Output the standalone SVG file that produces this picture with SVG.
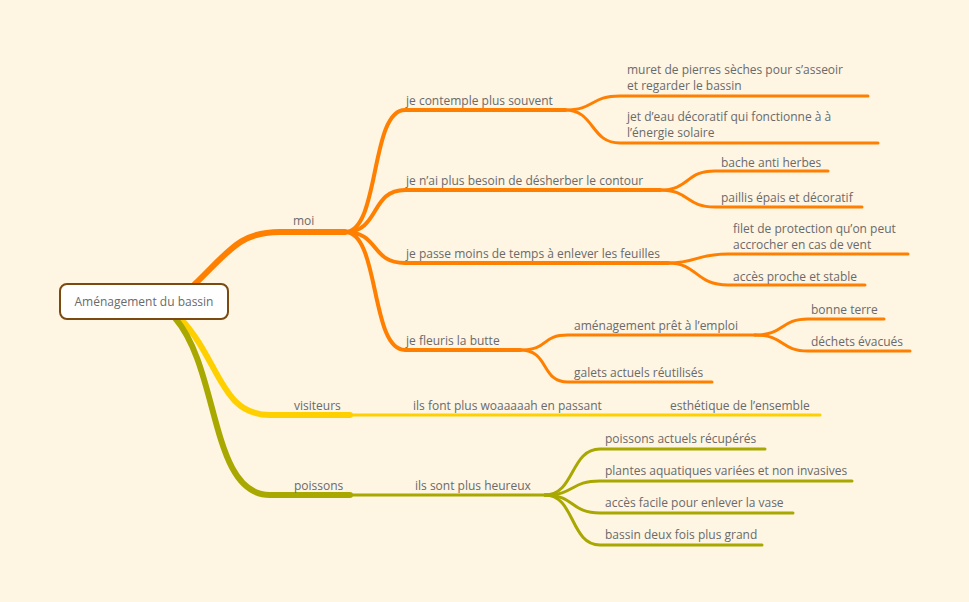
<svg xmlns="http://www.w3.org/2000/svg" width="969" height="602" viewBox="0 0 969 602">
<style>
text{font-family:"Open Sans","Liberation Sans",sans-serif;font-size:12px;fill:#6a6a6a}
.o{stroke:#FF7F00;fill:none;stroke-linecap:round}
.y{stroke:#FFD000;fill:none;stroke-linecap:round}
.g{stroke:#A8A800;fill:none;stroke-linecap:round}
.w1{stroke-width:6}.w2{stroke-width:4}.w3{stroke-width:3}
</style>
<rect width="969" height="602" fill="#FEF5E3"/>
<g id="connectors">
<path class="o w1" d="M195,284 C230,250 240,232 280,232 L345,232"/>
<path class="o w2" d="M345,232 C380,232 370,110 405,110 L565,110"/>
<path class="o w2" d="M345,232 C380,232 370,190 405,190 L660,190"/>
<path class="o w2" d="M345,232 C380,232 370,263 405,263 L668,263"/>
<path class="o w2" d="M345,232 C380,232 370,350 405,350 L520,350"/>
<path class="o w3" d="M565,110 C595,110 590,96 620,96 L868,96"/>
<path class="o w3" d="M565,110 C595,110 590,143 620,143 L878,143"/>
<path class="o w3" d="M660,190 C690,190 685,171 715,171 L828,171"/>
<path class="o w3" d="M660,190 C690,190 685,207 715,207 L862,207"/>
<path class="o w3" d="M668,263 C698,263 695,254 728,254 L908,254"/>
<path class="o w3" d="M668,263 C698,263 695,285 728,285 L865,285"/>
<path class="o w3" d="M520,350 C550,350 540,335 568,335 L755,335"/>
<path class="o w3" d="M520,350 C550,350 540,382 568,382 L712,382"/>
<path class="o w3" d="M755,335 C785,335 780,319 808,319 L884,319"/>
<path class="o w3" d="M755,335 C785,335 780,351 808,351 L910,351"/>
<path class="y w1" d="M180,318 C220,360 220,415 270,415 L350,415"/>
<path class="y w3" d="M350,415 L605,415 L820,415"/>
<path class="g w1" d="M175,318 C220,370 210,495 270,495 L350,495"/>
<path class="g w3" d="M350,495 L545,495"/>
<path class="g w3" d="M545,495 C575,495 570,449 600,449 L765,449"/>
<path class="g w3" d="M545,495 C575,495 570,481 600,481 L852,481"/>
<path class="g w3" d="M545,495 C575,495 570,513 600,513 L793,513"/>
<path class="g w3" d="M545,495 C575,495 570,545 600,545 L762,545"/>
</g>
<g id="root"><rect x="60" y="284" width="168" height="35" rx="7" fill="#fff" stroke="#7A4A10" stroke-width="2"/><text x="144" y="306" text-anchor="middle">Aménagement du bassin</text></g>
<g id="moi"><text x="293" y="225">moi</text></g>
<g id="n1"><text x="406" y="105">je contemple plus souvent</text></g>
<g id="n2"><text x="406" y="185">je n’ai plus besoin de désherber le contour</text></g>
<g id="n3"><text x="406" y="258">je passe moins de temps à enlever les feuilles</text></g>
<g id="n4"><text x="406" y="345">je fleuris la butte</text></g>
<g id="n5"><text x="627" y="74">muret de pierres sèches pour s’asseoir</text><text x="627" y="90">et regarder le bassin</text></g>
<g id="n6"><text x="627" y="121">jet d’eau décoratif qui fonctionne à à</text><text x="627" y="137">l’énergie solaire</text></g>
<g id="n7"><text x="721" y="167">bache anti herbes</text></g>
<g id="n8"><text x="721" y="202">paillis épais et décoratif</text></g>
<g id="n9"><text x="733" y="233">filet de protection qu’on peut</text><text x="733" y="249">accrocher en cas de vent</text></g>
<g id="n10"><text x="733" y="281">accès proche et stable</text></g>
<g id="n11"><text x="574" y="330">aménagement prêt à l’emploi</text></g>
<g id="n12"><text x="574" y="377">galets actuels réutilisés</text></g>
<g id="n13"><text x="811" y="314">bonne terre</text></g>
<g id="n14"><text x="811" y="346">déchets évacués</text></g>
<g id="visiteurs"><text x="294" y="410">visiteurs</text></g>
<g id="n15"><text x="413" y="410">ils font plus woaaaaah en passant</text></g>
<g id="n16"><text x="670" y="410">esthétique de l’ensemble</text></g>
<g id="poissons"><text x="294" y="490">poissons</text></g>
<g id="n17"><text x="415" y="490">ils sont plus heureux</text></g>
<g id="n18"><text x="605" y="443">poissons actuels récupérés</text></g>
<g id="n19"><text x="605" y="475">plantes aquatiques variées et non invasives</text></g>
<g id="n20"><text x="605" y="507">accès facile pour enlever la vase</text></g>
<g id="n21"><text x="605" y="539">bassin deux fois plus grand</text></g>
</svg>
